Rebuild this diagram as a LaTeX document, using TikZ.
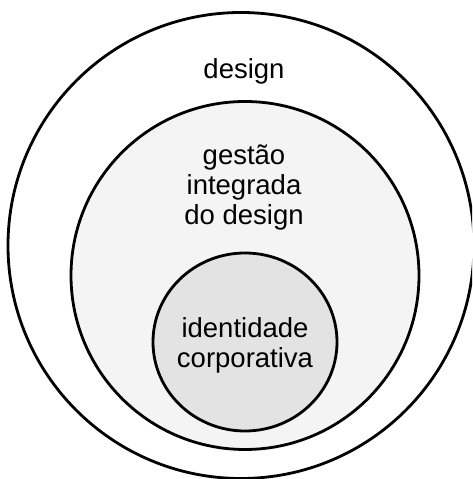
\documentclass[tikz,border=0pt]{standalone}
\usepackage{fontspec}
\setmainfont{Liberation Sans}
\definecolor{midgray}{HTML}{F4F4F4}
\definecolor{ingray}{HTML}{E3E3E3}
\begin{document}
\begin{tikzpicture}[x=1pt,y=1pt,
  ring/.style={draw=black,line width=2.8pt},
  lbl/.style={font=\fontsize{27.5}{30}\selectfont,align=center,inner sep=0pt,anchor=base}]
\useasboundingbox (0,0) rectangle (472,479);
\clip (0,0) rectangle (472,479);
\fill[white] (0,0) rectangle (472,479);
\draw[ring,fill=white] (241,233.5) circle[radius=233];
\draw[ring,fill=midgray] (245,203.5) circle[radius=174];
\draw[ring,fill=ingray] (245,137) ellipse[x radius=92,y radius=89];
\node[lbl] (design) at (244,400) {design};
\node[lbl] (gestao) at (244,254) {gestão\\integrada\\do design};
\node[lbl] (ident) at (245,111) {identidade\\corporativa};
\end{tikzpicture}
\end{document}
